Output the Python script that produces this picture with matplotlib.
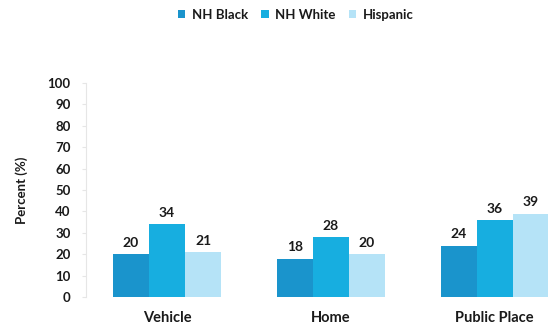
import matplotlib
matplotlib.use("Agg")
import matplotlib.pyplot as plt
import numpy as np

categories = ["Vehicle", "Home", "Public Place"]
series = ["NH Black", "NH White", "Hispanic"]
nh_black = [20, 18, 24]
nh_white = [34, 28, 36]
hispanic = [21, 20, 39]
yticks = [0, 10, 20, 30, 40, 50, 60, 70, 80, 90, 100]

colors = ["#1a94cc", "#17aee0", "#b5e3f7"]

plt.rcParams["font.family"] = ["Lato", "DejaVu Sans"]
plt.rcParams["font.weight"] = "bold"

fig = plt.figure(figsize=(5.48, 3.29), dpi=100)
ax = fig.add_axes([0.157, 0.097, 0.843, 0.651])

x = np.arange(len(categories))
w = 0.22
for i, (name, vals, c) in enumerate(zip(series, [nh_black, nh_white, hispanic], colors)):
    pos = x + (i - 1) * w
    ax.bar(pos, vals, width=w, color=c, label=name, linewidth=0)
    for p, v in zip(pos, vals):
        ax.text(p, v + 2.5, str(v), ha="center", va="bottom", fontsize=10,
                fontweight="bold", color="#1a1a1a")

ax.set_ylim(0, 100)
ax.set_xlim(-0.494, 0.325 + 2)
ax.set_yticks(yticks)
ax.set_xticks(x)
ax.set_xticklabels(categories, fontsize=10.5, fontweight="bold", color="#1a1a1a")
ax.tick_params(axis="y", labelsize=9.5, colors="#1a1a1a", length=3, color="#e6e6e6", pad=8)
ax.tick_params(axis="x", length=0, pad=10)
for lbl in ax.get_yticklabels():
    lbl.set_fontweight("bold")
ax.set_ylabel("Percent (%)", fontsize=9.5, fontweight="bold", color="#1a1a1a", labelpad=14)

for s in ["top", "right", "bottom"]:
    ax.spines[s].set_visible(False)
ax.spines["left"].set_color("#e6e6e6")
ax.spines["left"].set_linewidth(0.8)

fig.legend(loc="center", bbox_to_anchor=(0.54, 0.955), ncol=3, frameon=False,
           handlelength=0.55, handleheight=0.55, handletextpad=0.5, columnspacing=1.0,
           prop={"size": 9.5, "weight": "bold"})
for t in fig.legends[0].get_texts():
    t.set_color("#1a1a1a")

fig.savefig("out.png", dpi=100)
